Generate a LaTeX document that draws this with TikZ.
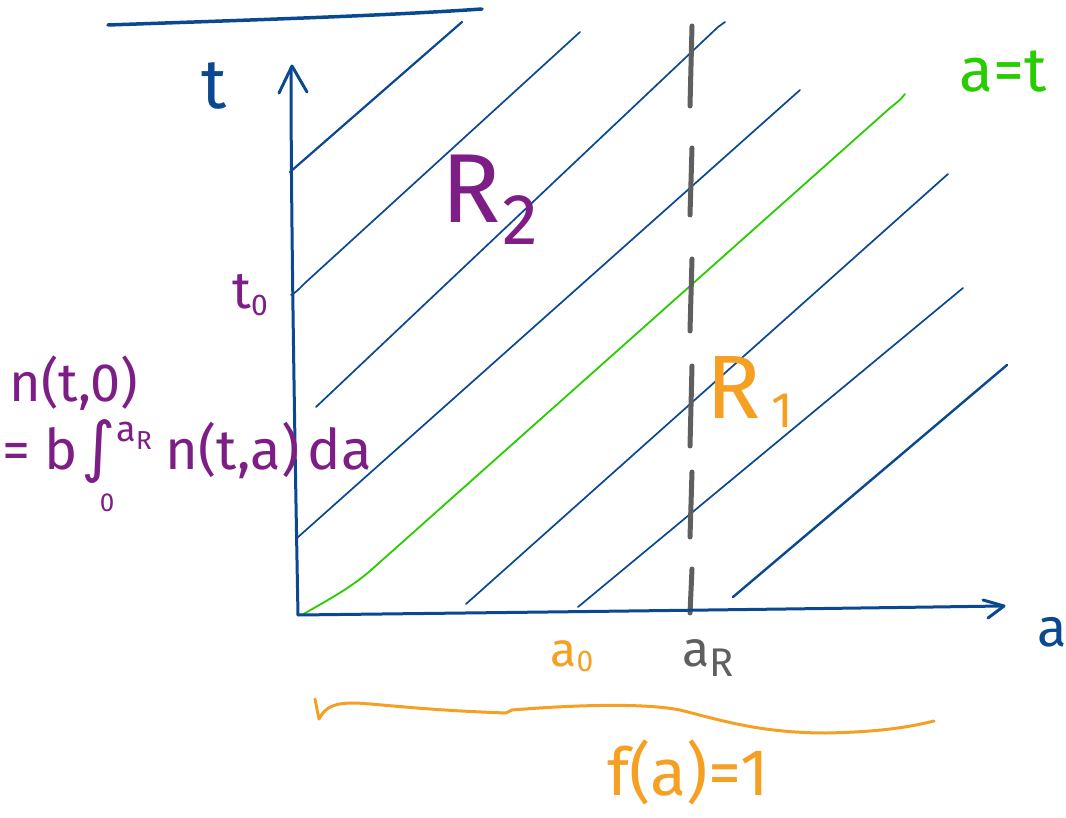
\documentclass[tikz,border=0pt]{standalone}
\usepackage{fontspec}
\setmainfont{Fira Sans}
\newfontfamily\djv{DejaVu Sans}
\definecolor{hblue}{RGB}{10,72,145}
\definecolor{hgreen}{RGB}{40,205,0}
\definecolor{hpurple}{RGB}{125,30,135}
\definecolor{horange}{RGB}{245,160,35}
\definecolor{hgray}{RGB}{95,95,95}
\newcommand{\fs}[1]{\fontsize{#1}{#1}\selectfont}
\begin{document}
\begin{tikzpicture}[x=1pt,y=-1pt,
  axis/.style={hblue,line width=3pt,line cap=round,line join=round},
  hatch/.style={hblue,line width=1.7pt,line cap=round},
  diag/.style={hgreen,line width=1.8pt,line cap=round},
  dashmark/.style={hgray,line width=5pt,line cap=round},
  bracepath/.style={horange,line width=3pt,line cap=round,line join=round},
  lbl/.style={inner sep=0pt,anchor=center}]
\useasboundingbox (0,0) rectangle (1066,818);
% top line
\draw[axis,line width=3.5pt] (108,25) .. controls (250,20) and (380,16) .. (482,9);
% hatching
\draw[hatch,line width=2.2pt] (290,172) -- (462,22);
\draw[hatch] (291,295) .. controls (296,292) .. (305,283) -- (580,32);
\draw[hatch] (316,407) -- (718,27) .. controls (722,24) .. (725,22);
\draw[hatch] (297,538) -- (800,90);
\draw[diag] (302,615) .. controls (322,603) and (348,590) .. (370,571) -- (890,108) .. controls (900,100) .. (905,94);
\draw[hatch] (466,604) -- (948,174);
\draw[hatch] (578,607) -- (963,288);
\draw[hatch,line width=2.4pt] (733,597) -- (1007,365);
% dashed vertical line a_R
\foreach \ya/\yb in {26/106,148/215,259/331,366/446,472/537,569/613}
  \draw[dashmark] (692,\ya) -- (690,\yb);
% axes
\draw[axis] (298,615) .. controls (294,400) and (291,200) .. (291,68);
\draw[axis] (279,93) -- (292,66) -- (307,92);
\draw[axis] (298,615) .. controls (550,612) and (800,609) .. (1002,606);
\draw[axis] (983,600) -- (1004,606) -- (988,618);
% brace
\draw[bracepath] (315,699) -- (319,719) .. controls (326,706) and (335,703) .. (355,703)
  .. controls (380,704) and (420,710) .. (506,713) -- (512,710)
  .. controls (560,706) and (640,702) .. (680,710)
  .. controls (720,720) and (760,733) .. (826,733)
  .. controls (880,732) and (910,727) .. (934,721);
% labels
\node[lbl,text=hblue,font=\fs{70}] (tl) at (214,86) {t};
\node[lbl,text=hblue,font=\fs{54}] (al) at (1052,632) {a};
\node[lbl,text=hgreen,font=\fs{62}] (eq) at (1003,72) {a=t};
\node[lbl,text=hpurple,font=\fs{98}] (r2) at (490,200) {R\kern0.02em\raisebox{-0.22em}{\fs{72}2}};
\node[lbl,text=horange,font=\fs{90}] (r1) at (750,392) {R\kern0.12em\raisebox{-0.1em}{\fs{50}1}};
\node[lbl,text=hpurple,font=\fs{52}] (t0) at (250,295) {t\raisebox{-0.12em}{\fs{30}0}};
\node[lbl,text=hpurple,font=\fs{54}] (n0) at (74,383) {n(t,0)};
\node[lbl,text=hpurple,font=\fs{56},anchor=west] (nint) at (2,466)
  {= b\kern0.05em{\djv\fs{66}∫}\kern0.02em\rlap{\kern-0.3em\raisebox{-0.75em}{\fs{26}0}}\raisebox{0.5em}{\fs{36}a\raisebox{-0.2em}{\fs{26}R}}\kern0.25em n(t,a)\kern0.15em da};
\node[lbl,text=horange,font=\fs{48}] (a0) at (572,656) {a\raisebox{-0.1em}{\fs{30}0}};
\node[lbl,text=hgray,font=\fs{50}] (ar) at (708,658) {a\raisebox{-0.2em}{\fs{40}R}};
\node[lbl,text=horange,font=\fs{66}] (fa) at (688,772) {f(a)=1};
\end{tikzpicture}
\end{document}
